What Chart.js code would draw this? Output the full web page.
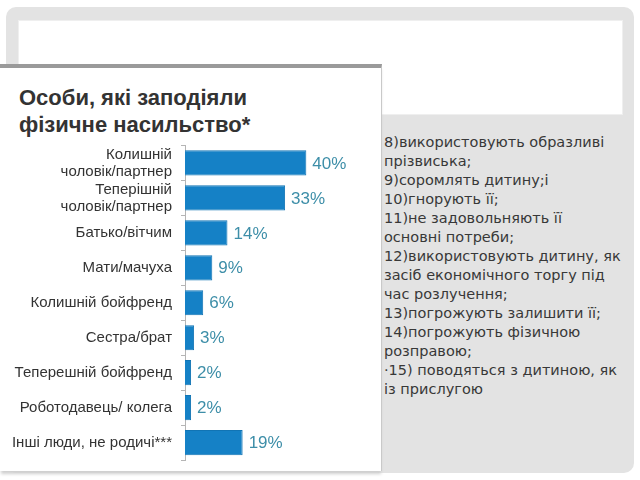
<!DOCTYPE html>
<html>
<head>
<meta charset="utf-8">
<script src="https://cdn.jsdelivr.net/npm/chart.js@4.4.1/dist/chart.umd.min.js"></script>
<style>
    body { margin: 0; width: 640px; height: 480px; background: #fff; position: relative; overflow: hidden; font-family: "Liberation Sans", Arial, sans-serif; }
    #frame { position: absolute; left: 6px; top: 7px; width: 628px; height: 466px; background: #e3e3e3; border-radius: 10px; }
    #topbox { position: absolute; left: 18px; top: 20px; width: 603px; height: 93px; background: #fff; border: 1px solid #efefef; }
    #panel { position: absolute; left: 0; top: 64px; width: 381px; height: 403px; background: #fff; border-top: 4px solid #9a9a9a; border-right: 1px solid #c9c9c9; box-shadow: 0 4px 3px -1px #cfcfcf; }
    #title { position: absolute; left: 19px; top: 16px; font-size: 22px; font-weight: bold; color: #333; line-height: 27px; }
    #chartBox { position: absolute; left: 0; top: 60px; width: 380px; height: 358px; }
    #notes { position: absolute; left: 384px; top: 133px; font-family: "DejaVu Sans", sans-serif; font-size: 14.5px; line-height: 19px; color: #383838; white-space: nowrap; }
</style>
</head>
<body>
<div id="frame"></div>
<div id="topbox"></div>
<div id="panel">
    <div id="title">Особи, які заподіяли<br>фізичне насильство*</div>
    <div id="chartBox"><canvas id="myChart"></canvas></div>
</div>
<div id="notes">
8)використовують образливі<br>
прізвиська;<br>
9)соромлять дитину;і<br>
10)гнорують її;<br>
11)не задовольняють її<br>
основні потреби;<br>
12)використовують дитину, як<br>
засіб економічного торгу під<br>
час розлучення;<br>
13)погрожують залишити її;<br>
14)погрожують фізичною<br>
розправою;<br>
·15) поводяться з дитиною, як<br>
із прислугою
</div>
<script>
var categories = [
    ["Колишній", "чоловік/партнер"],
    ["Теперішній", "чоловік/партнер"],
    "Батько/вітчим",
    "Мати/мачуха",
    "Колишній бойфренд",
    "Сестра/брат",
    "Теперешній бойфренд",
    "Роботодавець/ колега",
    "Інші люди, не родичі***"
];
var values = [40, 33, 14, 9, 6, 3, 2, 2, 19];

// draws the "NN%" text at the end of each bar
var valueLabels = {
    id: "valueLabels",
    afterDatasetsDraw: function(chart) {
        var ctx = chart.ctx;
        var meta = chart.getDatasetMeta(0);
        ctx.save();
        ctx.font = "17px 'Liberation Sans', Arial, sans-serif";
        ctx.fillStyle = "#3d8ea8";
        ctx.textBaseline = "middle";
        ctx.textAlign = "left";
        meta.data.forEach(function(bar, i) {
            ctx.fillText(values[i] + "%", bar.x + 6, bar.y + 1);
        });
        ctx.restore();
    }
};

var ctx = document.getElementById("myChart").getContext("2d");
var chart = new Chart(ctx, {
    type: "bar",
    data: {
        labels: categories,
        datasets: [{
            data: values,
            backgroundColor: "#1581c6",
            borderColor: "#1174b4",
            borderWidth: 1,
            categoryPercentage: 1,
            barPercentage: 0.72
        }]
    },
    options: {
        indexAxis: "y",
        responsive: true,
        maintainAspectRatio: false,
        animation: false,
        layout: { padding: { top: 0, bottom: 7, right: 13, left: 0 } },
        plugins: {
            legend: { display: false },
            tooltip: { enabled: false }
        },
        scales: {
            x: {
                display: false,
                min: 0,
                max: 60
            },
            y: {
                afterFit: function(scale) { scale.width = 185; },
                grid: {
                    offset: true,
                    drawOnChartArea: false,
                    drawTicks: true,
                    tickLength: 4,
                    color: "#b5b5b5"
                },
                border: { display: true, color: "#b5b5b5" },
                ticks: {
                    autoSkip: false,
                    color: "#333",
                    padding: 9,
                    font: { family: "'Liberation Sans', Arial, sans-serif", size: 15, lineHeight: 1.13 }
                }
            }
        }
    },
    plugins: [valueLabels]
});
</script>
</body>
</html>
